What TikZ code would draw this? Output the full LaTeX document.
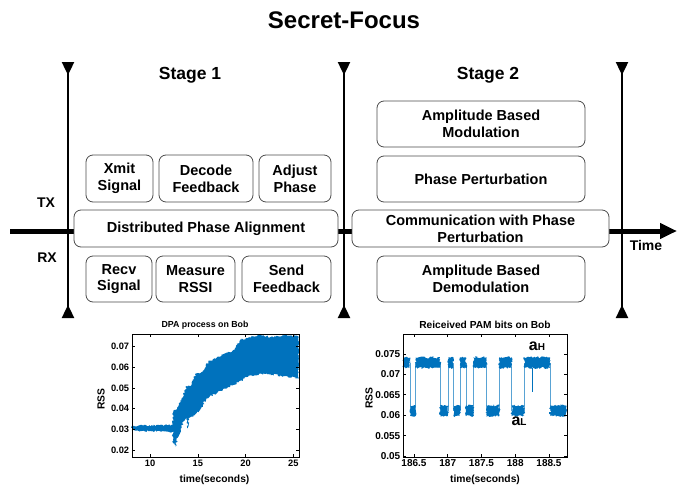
\documentclass[tikz,border=0pt]{standalone}
\usepackage{fontspec}
\setmainfont{Liberation Sans}
\usetikzlibrary{arrows.meta,decorations.pathmorphing}
\definecolor{rssblue}{RGB}{0,114,189}

\begin{document}
\begin{tikzpicture}[x=1pt,y=-1pt,
  box/.style={draw=black!70, line width=.8pt, rounded corners=7pt, fill=white, align=center, inner sep=0pt, font=\fontsize{14.5}{16.7}\selectfont\bfseries},
  lane/.style={line width=2.4pt, {Triangle[reversed,width=12pt,length=13pt]}-{Triangle[reversed,width=12pt,length=13pt]}},
  lbl/.style={font=\fontsize{14}{16}\selectfont\bfseries},
  noisy/.style={rssblue, decorate, decoration={random steps, segment length=1.2pt, amplitude=1.1pt}},
  ticklab/.style={font=\fontsize{9.3}{10}\selectfont\bfseries, inner sep=2.5pt},
  axlab/.style={font=\fontsize{10.3}{11}\selectfont\bfseries}]
\pgfmathsetseed{11}
\useasboundingbox (0,0) rectangle (678,485);
\node[font=\fontsize{24}{26}\selectfont\bfseries] (title) at (344,20) {Secret-Focus};
\node[font=\fontsize{17.5}{19}\selectfont\bfseries] (stage1) at (190,75) {Stage 1};
\node[font=\fontsize{17.5}{19}\selectfont\bfseries] (stage2) at (488,75) {Stage 2};
\coordinate (t0) at (10,231);
\coordinate (t1) at (677,231);
\draw[line width=5pt, -{Triangle[width=15pt,length=17pt]}] (t0) -- (t1);
\coordinate (l1a) at (68,62);
\coordinate (l1b) at (68,318);
\coordinate (l2a) at (344,62);
\coordinate (l2b) at (344,318);
\coordinate (l3a) at (622,62);
\coordinate (l3b) at (622,318);
\draw[lane] (l1a) -- (l1b);
\draw[lane] (l2a) -- (l2b);
\draw[lane] (l3a) -- (l3b);
\node[lbl] (tx) at (46,203) {TX};
\node[lbl] (rx) at (47,258) {RX};
\node[lbl] (time) at (646,245) {Time};
\node[box, minimum width=67pt, minimum height=47pt] (xmit) at (119.5,178.5) {Xmit\\Signal};
\node[box, minimum width=94pt, minimum height=47pt] (decode) at (206,178.5) {Decode\\Feedback};
\node[box, minimum width=72pt, minimum height=47pt] (adjust) at (295,178.5) {Adjust\\Phase};
\node[box, minimum width=264pt, minimum height=37pt] (dpa) at (206,228.5) {Distributed Phase Alignment};
\node[box, minimum width=66pt, minimum height=46pt] (recv) at (119,279) {Recv\\Signal};
\node[box, minimum width=79pt, minimum height=46pt] (measure) at (195.5,279) {Measure\\RSSI};
\node[box, minimum width=89pt, minimum height=46pt] (sendfb) at (286.5,279) {Send\\Feedback};
\node[box, minimum width=208pt, minimum height=46pt] (abm) at (481,124) {Amplitude Based\\Modulation};
\node[box, minimum width=208pt, minimum height=46pt] (pert) at (481,179) {Phase Perturbation};
\node[box, minimum width=257pt, minimum height=37pt] (comm) at (480.5,228.5) {Communication with Phase\\Perturbation};
\node[box, minimum width=208pt, minimum height=46pt] (abd) at (481,279) {Amplitude Based\\Demodulation};
% DPA process on Bob
\node[font=\fontsize{8.8}{10}\selectfont\bfseries] (dpatitle) at (205,325) {DPA process on Bob};
\node[axlab, rotate=90] (rss1) at (101,399) {RSS};
\node[axlab] (time1) at (214.5,480) {time(seconds)};
\begin{scope}[shift={(54.4pt,-491.4pt)}, x=9.56pt, y=2070pt]
\fill[noisy] (8.1,0.0316) -- (12.37,0.0321) -- (12.44,0.0385) -- (12.86,0.0406) -- (13.31,0.045)
  -- (13.84,0.0509) -- (14.29,0.0514) -- (14.81,0.057) -- (15.58,0.0578) -- (16.1,0.0627)
  -- (17.32,0.0651) -- (18.71,0.0683) -- (19.59,0.0735) -- (21.5,0.0756) -- (22.9,0.0744)
  -- (24.3,0.0756) -- (25.55,0.0747) -- (25.55,0.0546) -- (23.94,0.0557) -- (21.85,0.057)
  -- (20.28,0.0554) -- (18.71,0.0514) -- (17.32,0.0486) -- (15.93,0.045) -- (15.23,0.0393)
  -- (14.53,0.0361) -- (14.01,0.0353) -- (13.94,0.0305) -- (13.84,0.0369) -- (13.31,0.0313)
  -- (12.79,0.0248) -- (12.72,0.0216) -- (12.44,0.0232) -- (12.37,0.0288) -- (8.1,0.0293) -- cycle;
\draw[line width=.6pt] (8.1,0.01662) rectangle (25.59,0.07604);
\foreach \v in {0.02,0.03,0.04,0.05,0.06,0.07} {
  \draw[line width=.6pt] (8.1,\v) -- ++(3pt,0);
  \draw[line width=.6pt] (25.59,\v) -- ++(-3pt,0);
  \node[ticklab, left] at (8.1,\v) {\v};
}
\foreach \t in {10,15,20,25} {
  \draw[line width=.6pt] (\t,0.01662) -- ++(0,3pt);
  \draw[line width=.6pt] (\t,0.07604) -- ++(0,-3pt);
  \node[ticklab, below] at (\t,0.01662) {\t};
}
\end{scope}
% Reiceived PAM bits on Bob
\node[font=\fontsize{10.2}{11}\selectfont\bfseries] (pamtitle) at (485,325) {Reiceived PAM bits on Bob};
\node[axlab, rotate=90] (rss2) at (369,398) {RSS};
\node[axlab] (time2) at (485,480) {time(seconds)};
\begin{scope}[shift={(380.25pt,-660pt)}, x=67.5pt, y=4080pt]
\foreach \u in {0.441,0.525,0.885,1.008,1.082,1.181,1.270,1.379,1.577,1.764,1.947,2.134,2.515}
  \draw[rssblue!65, line width=.9pt] (\u,0.0729) -- (\u,0.0611);
\draw[rssblue, line width=.9pt] (2.258,0.0716) -- (2.258,0.0658);
\foreach \a/\b/\lv in {0.345/0.441/0.0729, 0.441/0.525/0.0611, 0.525/0.885/0.0729, 0.885/1.008/0.0611,
  1.008/1.082/0.0729, 1.082/1.181/0.0611, 1.181/1.270/0.0729, 1.270/1.379/0.0611,
  1.379/1.577/0.0729, 1.577/1.764/0.0611, 1.764/1.947/0.0729, 1.947/2.134/0.0611,
  2.134/2.515/0.0729, 2.515/2.755/0.0611}
  \fill[noisy] ({\a},{\lv-0.0013}) rectangle ({\b},{\lv+0.0013});
\draw[line width=.6pt] (0.337,0.04975) rectangle (2.766,0.0799);
\foreach \v in {0.05,0.055,0.06,0.065,0.07,0.075} {
  \draw[line width=.6pt] (0.337,\v) -- ++(3pt,0);
  \draw[line width=.6pt] (2.766,\v) -- ++(-3pt,0);
  \node[ticklab, left, font=\fontsize{10}{11}\selectfont\bfseries] at (0.337,\v) {\v};
}
\foreach \u/\s in {0.5/186.5, 1/187, 1.5/187.5, 2/188, 2.5/188.5} {
  \draw[line width=.6pt] (\u,0.04975) -- ++(0,3pt);
  \draw[line width=.6pt] (\u,0.0799) -- ++(0,-3pt);
  \node[ticklab, below, font=\fontsize{10}{11}\selectfont\bfseries] at (\u,0.04975) {\s};
}
\end{scope}
\node[font=\fontsize{16}{16}\selectfont\bfseries] (ah) at (537,346) {a\fontsize{10}{10}\selectfont H};
\node[font=\fontsize{16}{16}\selectfont\bfseries] (al) at (519,421) {a\fontsize{10}{10}\selectfont L};
\end{tikzpicture}
\end{document}
